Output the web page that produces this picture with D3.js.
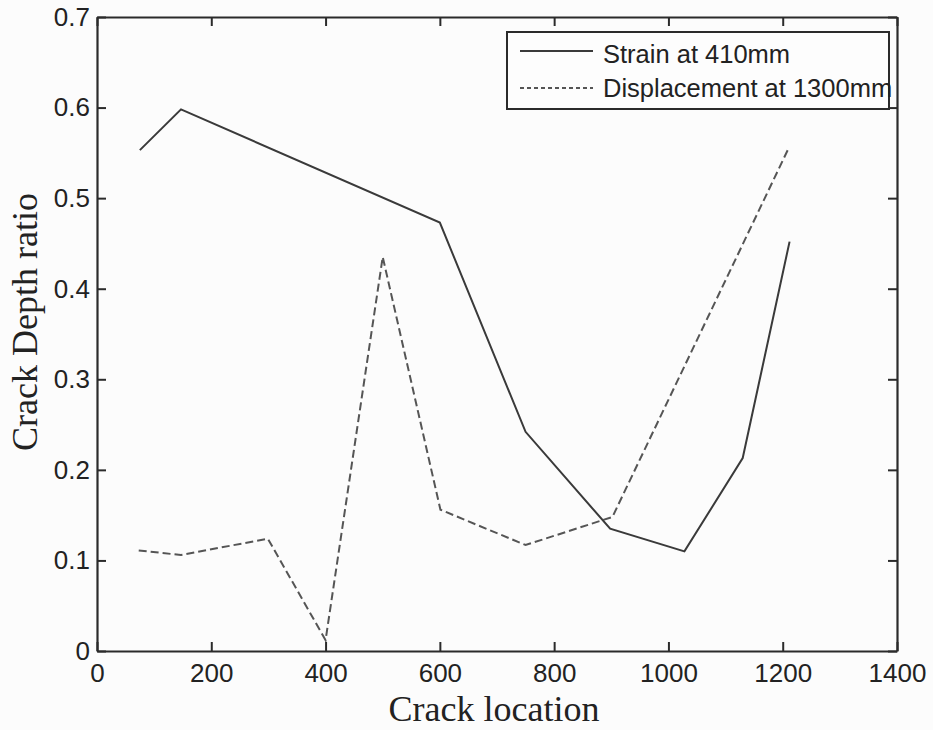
<!DOCTYPE html>
<html>
<head>
<meta charset="utf-8">
<script src="https://cdn.jsdelivr.net/npm/d3@7/dist/d3.min.js"></script>
<style>
  html, body { margin: 0; padding: 0; background: #fcfcfc; }
  svg { display: block; }
</style>
</head>
<body>
<svg id="chart" width="933" height="730"></svg>
<script>
// ---- data ----
const strainX = [75, 147, 600, 750, 898, 1028, 1130, 1212];
const strainY = [0.553, 0.598, 0.473, 0.242, 0.135, 0.110, 0.213, 0.452];
const dispX = [73, 147, 299, 400, 500, 601, 750, 902, 1211];
const dispY = [0.111, 0.106, 0.124, 0.012, 0.435, 0.156, 0.117, 0.148, 0.556];
const xTicks = [0, 200, 400, 600, 800, 1000, 1200, 1400];
const yTicks = [0, 0.1, 0.2, 0.3, 0.4, 0.5, 0.6, 0.7];
const seriesNames = ["Strain at 410mm", "Displacement at 1300mm"];
const xTitle = "Crack location";
const yTitle = "Crack Depth ratio";

// ---- layout ----
const svg = d3.select("#chart");
const L = 97, R = 897, T = 17, B = 651;
const x = d3.scaleLinear().domain([0, 1400]).range([L, R]);
const y = d3.scaleLinear().domain([0, 0.7]).range([B, T]);
const axisColor = "#2b2b2b";
const tickLen = 9;

svg.append("rect").attr("width", 933).attr("height", 730).attr("fill", "#fcfcfc");

// series
const line = d3.line().x(d => x(d[0])).y(d => y(d[1]));
const strain = strainX.map((v, i) => [v, strainY[i]]);
const disp = dispX.map((v, i) => [v, dispY[i]]);

svg.append("path").datum(disp).attr("d", line)
  .attr("fill", "none").attr("stroke", "#555").attr("stroke-width", 2)
  .attr("stroke-dasharray", "8,4");
svg.append("path").datum(strain).attr("d", line)
  .attr("fill", "none").attr("stroke", "#3a3a3a").attr("stroke-width", 2);

// axes (MATLAB-style box with inward ticks)
const fmtY = d => d === 0 ? "0" : d3.format(".1f")(d);
const axB = d3.axisBottom(x).tickValues(xTicks).tickSizeInner(-tickLen).tickSizeOuter(0).tickPadding(13).tickFormat(d3.format("d"));
const axT = d3.axisTop(x).tickValues(xTicks).tickSizeInner(-tickLen).tickSizeOuter(0).tickFormat("");
const axLft = d3.axisLeft(y).tickValues(yTicks).tickSizeInner(-tickLen).tickSizeOuter(0).tickPadding(7).tickFormat(fmtY);
const axRt = d3.axisRight(y).tickValues(yTicks).tickSizeInner(-tickLen).tickSizeOuter(0).tickFormat("");

function styleAxis(g) {
  g.select(".domain").attr("stroke", axisColor).attr("stroke-width", 2.2);
  g.selectAll(".tick line").attr("stroke", axisColor).attr("stroke-width", 2);
  g.selectAll(".tick text").attr("fill", "#222")
    .attr("font-family", "'Liberation Sans', Arial, Helvetica, sans-serif")
    .attr("font-size", 26);
}
svg.append("g").attr("transform", `translate(0,${B})`).call(axB).call(styleAxis);
svg.append("g").attr("transform", `translate(0,${T})`).call(axT).call(styleAxis);
svg.append("g").attr("transform", `translate(${L},0)`).call(axLft).call(styleAxis);
svg.append("g").attr("transform", `translate(${R},0)`).call(axRt).call(styleAxis);

// axis titles
svg.append("text").attr("x", 494).attr("y", 721).attr("text-anchor", "middle")
  .attr("font-family", "'Liberation Serif', 'Times New Roman', serif").attr("font-size", 36)
  .attr("fill", "#222").text(xTitle);
svg.append("text").attr("transform", "translate(37,322) rotate(-90)").attr("text-anchor", "middle")
  .attr("font-family", "'Liberation Serif', 'Times New Roman', serif").attr("font-size", 36)
  .attr("fill", "#222").text(yTitle);

// legend
const lg = svg.append("g");
lg.append("rect").attr("x", 507).attr("y", 32).attr("width", 382).attr("height", 77)
  .attr("fill", "#fdfdfd").attr("stroke", axisColor).attr("stroke-width", 2);
const legRows = [
  { name: seriesNames[0], dash: null, color: "#3a3a3a", ly: 51, ty: 63 },
  { name: seriesNames[1], dash: "4,3", color: "#555", ly: 88, ty: 97 }
];
legRows.forEach(r => {
  const ln = lg.append("line").attr("x1", 520).attr("x2", 593).attr("y1", r.ly).attr("y2", r.ly)
    .attr("stroke", r.color).attr("stroke-width", 2);
  if (r.dash) ln.attr("stroke-dasharray", r.dash);
  lg.append("text").attr("x", 603).attr("y", r.ty)
    .attr("font-family", "'Liberation Sans', Arial, Helvetica, sans-serif").attr("font-size", 25.5)
    .attr("fill", "#222").text(r.name);
});
</script>
</body>
</html>
